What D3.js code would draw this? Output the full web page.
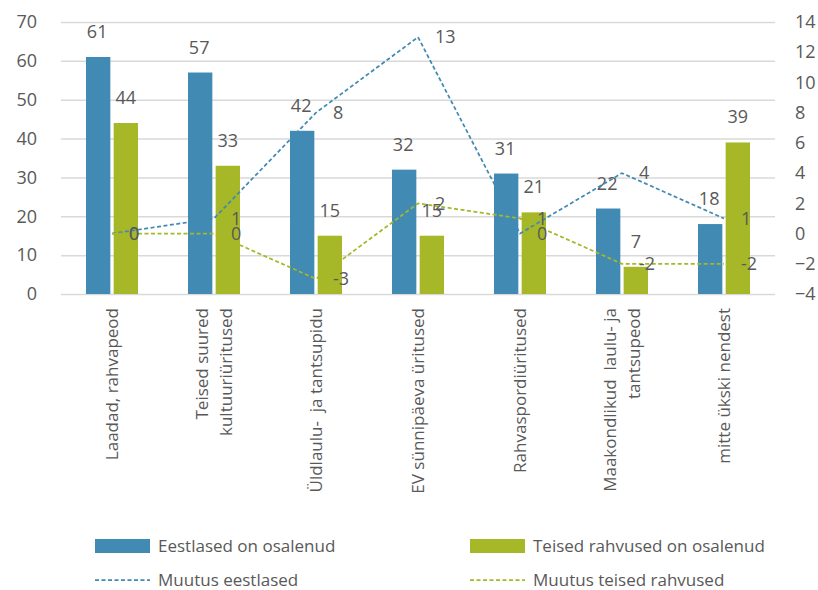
<!DOCTYPE html>
<html><head><meta charset="utf-8">
<script src="https://cdn.jsdelivr.net/npm/d3@7"></script>
<style>
html,body{margin:0;padding:0;background:#fff;}
text{font-family:"Open Sans",sans-serif;fill:#595959;}
</style></head>
<body><svg id="c" width="818" height="590"></svg>
<script>
const categories = ["Laadad, rahvapeod","Teised suured\nkultuuriüritused","Üldlaulu-  ja tantsupidu","EV sünnipäeva üritused","Rahvaspordiüritused","Maakondlikud  laulu- ja\ntantsupeod","mitte ükski nendest"];
const seriesNames = ["Eestlased on osalenud","Teised rahvused on osalenud","Muutus eestlased","Muutus teised rahvused"];
const barEst = [61,57,42,32,31,22,18];
const barOther = [44,33,15,15,21,7,39];
const changeEst = [0,1,8,13,0,4,1];
const changeOther = [0,0,-3,2,1,-2,-2];
const leftTicks = [0,10,20,30,40,50,60,70];
const rightTicks = [-4,-2,0,2,4,6,8,10,12,14];

const colBlue = "#418AB3", colGreen = "#A6B727";
const svg = d3.select("#c");
const L = 61, R = 775, T = 22, B = 294;

const x = d3.scaleBand().domain(categories).range([L,R]);
const x1 = d3.scaleBand().domain(["e","o"]).range([0,52]).paddingInner(0.12);
const y = d3.scaleLinear().domain([0,70]).range([B,T]);
const y2 = d3.scaleLinear().domain([-4,14]).range([B,T]);
const cx = c => x(c) + x.bandwidth()/2;

// gridlines
const gAx = svg.append("g").attr("transform",`translate(${L},0)`)
  .call(d3.axisLeft(y).tickValues(leftTicks).tickSize(-(R-L)).tickPadding(24));
gAx.select(".domain").remove();
gAx.selectAll("line").attr("stroke","#d9d9d9").attr("stroke-width",1.5);
gAx.selectAll("text").style("font-size","18px").attr("fill","#595959");

const gAx2 = svg.append("g").attr("transform",`translate(${R},0)`)
  .call(d3.axisRight(y2).tickValues(rightTicks).tickSize(0).tickPadding(20));
gAx2.select(".domain").remove();
gAx2.selectAll("text").style("font-size","18px").attr("fill","#595959");

// bars
const groups = svg.append("g").selectAll("g").data(categories).join("g")
  .attr("transform",c=>`translate(${cx(c)-26},0)`);
groups.append("rect").attr("x",x1("e")).attr("width",x1.bandwidth())
  .attr("y",(c,i)=>y(barEst[i])).attr("height",(c,i)=>B-y(barEst[i])).attr("fill",colBlue);
groups.append("rect").attr("x",x1("o")).attr("width",x1.bandwidth())
  .attr("y",(c,i)=>y(barOther[i])).attr("height",(c,i)=>B-y(barOther[i])).attr("fill",colGreen);

// lines
const lineGen = vals => d3.line().x((c)=>cx(c)).y((c,i)=>y2(vals[i]))(categories);
svg.append("path").attr("d",lineGen(changeEst)).attr("fill","none").attr("stroke",colBlue)
  .attr("stroke-width",1.75).attr("stroke-dasharray","4,2.5");
svg.append("path").attr("d",lineGen(changeOther)).attr("fill","none").attr("stroke",colGreen)
  .attr("stroke-width",1.75).attr("stroke-dasharray","4,2.5");

// bar labels
groups.append("text").attr("x",x1("e")+x1.bandwidth()/2-1).attr("y",(c,i)=>y(barEst[i])-19)
  .attr("text-anchor","middle").style("font-size","18px").text((c,i)=>barEst[i]);
groups.append("text").attr("x",x1("o")+x1.bandwidth()/2).attr("y",(c,i)=>y(barOther[i])-19)
  .attr("text-anchor","middle").style("font-size","18px").text((c,i)=>barOther[i]);

// line labels
const lbl = svg.append("g");
lbl.selectAll("text.e").data(categories).join("text").attr("class","e")
  .attr("x",c=>cx(c)+17).attr("y",(c,i)=>y2(changeEst[i])).attr("dy","0.35em")
  .style("font-size","18px").text((c,i)=>changeEst[i]);
lbl.selectAll("text.o").data(categories).join("text").attr("class","o")
  .attr("x",c=>cx(c)+17).attr("y",(c,i)=>y2(changeOther[i])).attr("dy","0.35em")
  .style("font-size","18px").text((c,i)=>changeOther[i]);

// category labels
const cat = svg.append("g").selectAll("text").data(categories).join("text")
  .attr("transform",c=>`translate(${cx(c)},308) rotate(-90)`)
  .attr("text-anchor","end").style("font-size","17px");
cat.each(function(c){
  const lines = c.split("\n");
  const n = lines.length;
  d3.select(this).selectAll("tspan").data(lines).join("tspan")
    .attr("x",0).attr("y",(d,i)=>(i-(n-1)/2)*24).attr("dy","0.35em")
    .style("white-space","pre").text(d=>d);
});
cat.attr("xml:space","preserve");

// legend
const leg = svg.append("g");
const legItems = [
  {name:seriesNames[0],type:"rect",col:colBlue,x:95,y:546},
  {name:seriesNames[1],type:"rect",col:colGreen,x:470,y:546},
  {name:seriesNames[2],type:"line",col:colBlue,x:95,y:580},
  {name:seriesNames[3],type:"line",col:colGreen,x:470,y:580}
];
legItems.forEach(d=>{
  if(d.type==="rect") leg.append("rect").attr("x",d.x).attr("y",d.y-7).attr("width",55).attr("height",14).attr("fill",d.col);
  else leg.append("line").attr("x1",d.x).attr("x2",d.x+55).attr("y1",d.y).attr("y2",d.y)
    .attr("stroke",d.col).attr("stroke-width",1.75).attr("stroke-dasharray","4,2.5");
  leg.append("text").attr("x",d.x+63).attr("y",d.y).attr("dy","0.35em").style("font-size","17px").text(d.name);
});
</script></body></html>
